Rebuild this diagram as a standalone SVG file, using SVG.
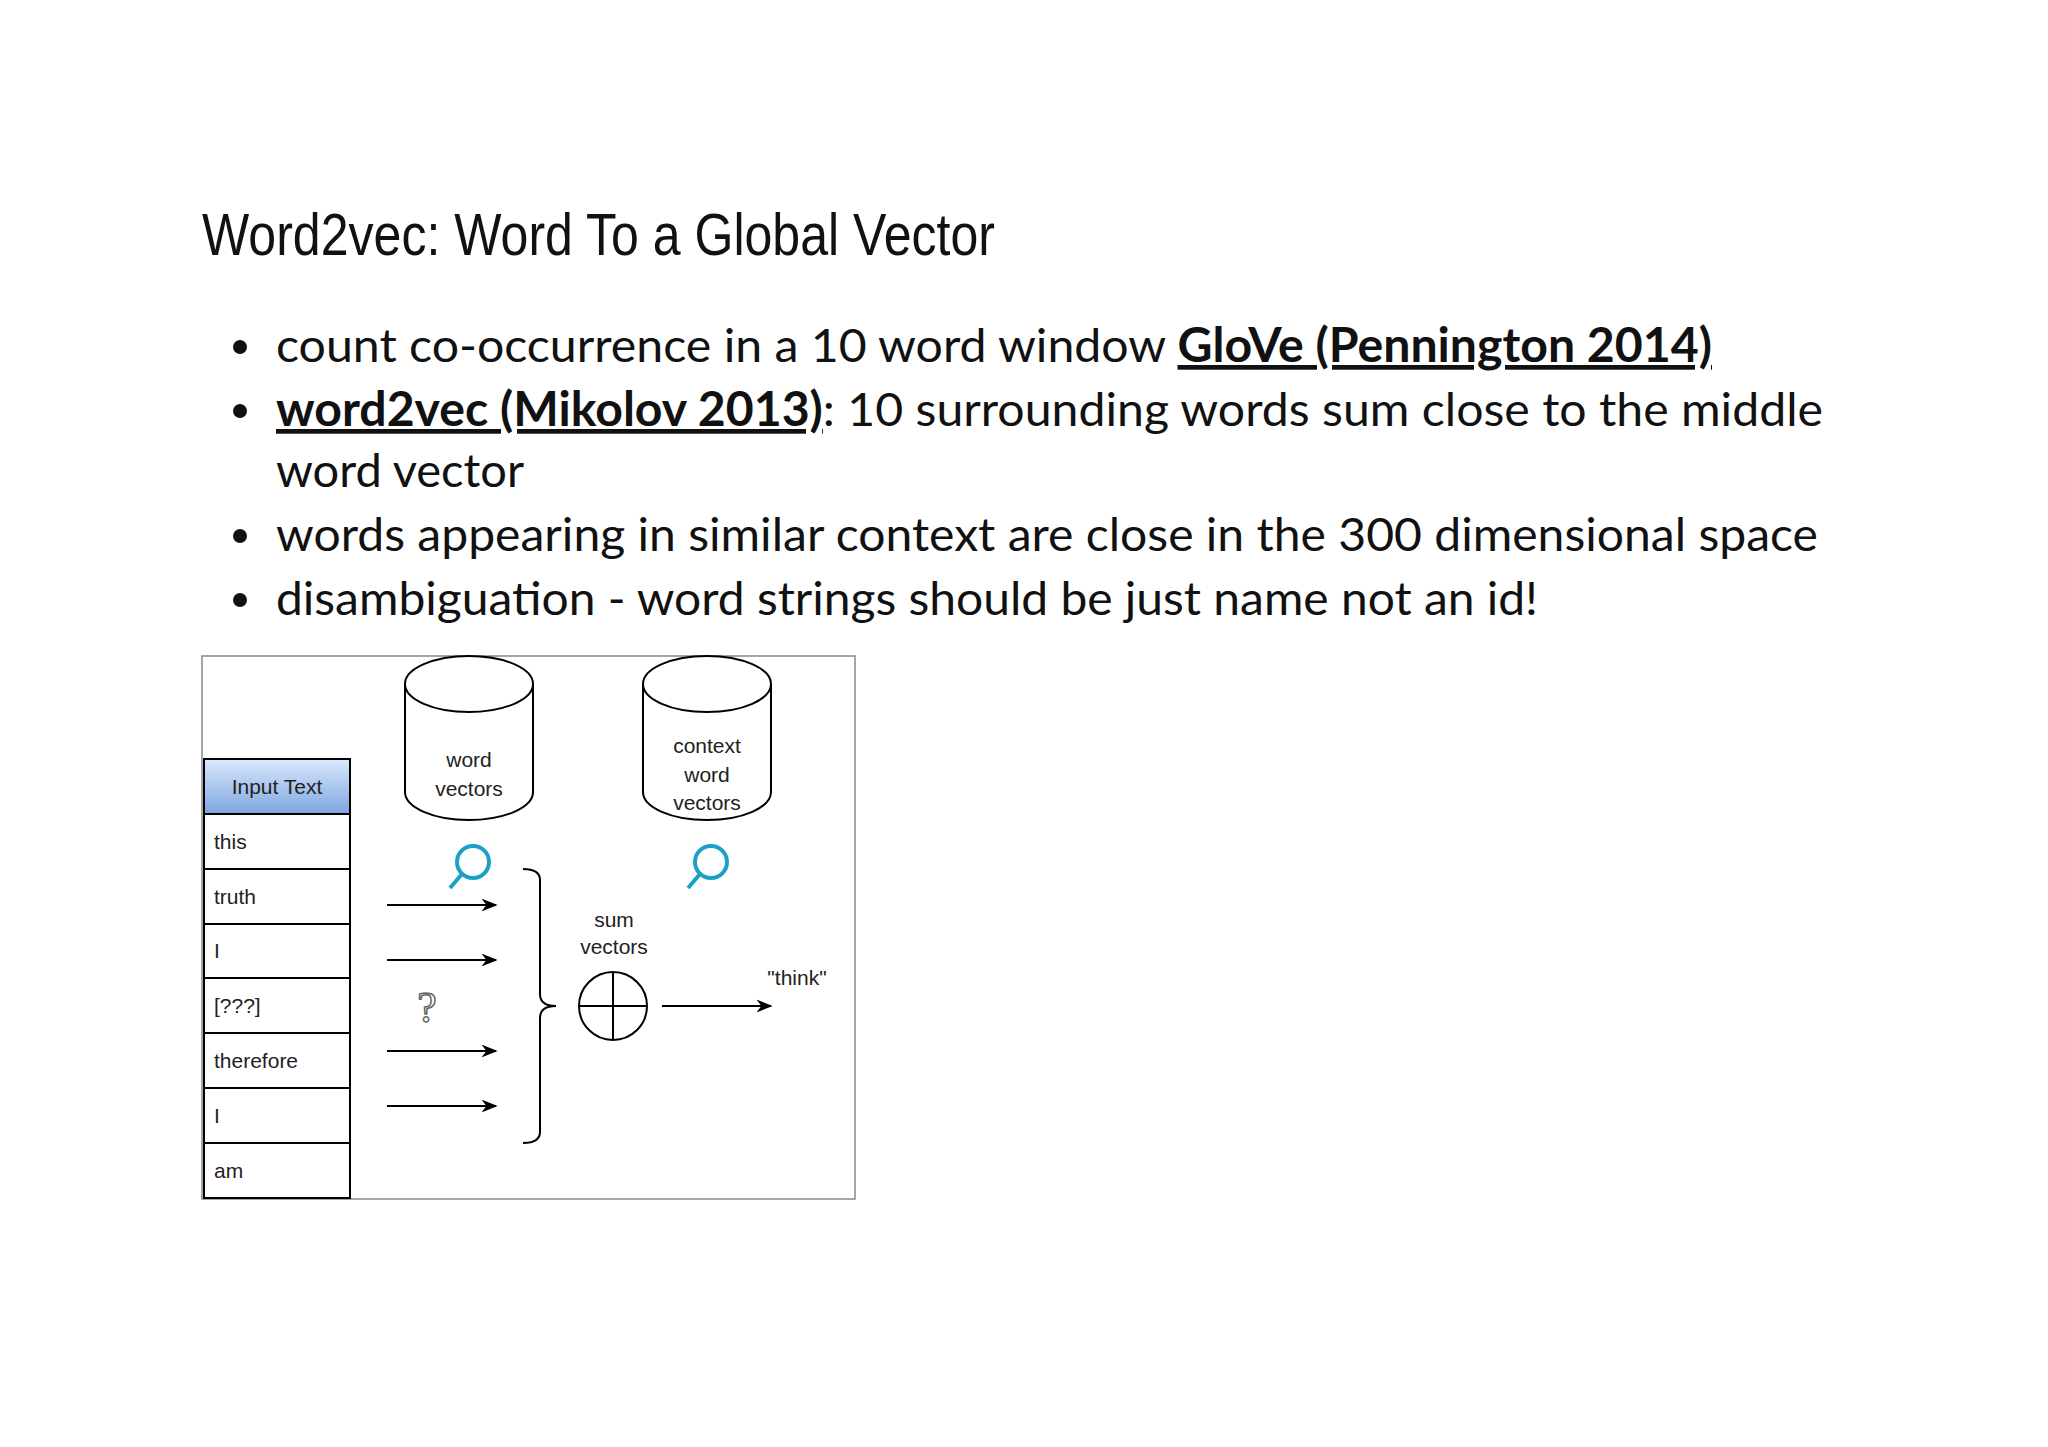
<svg xmlns="http://www.w3.org/2000/svg" width="2048" height="1447" viewBox="0 0 2048 1447">
<defs>
<linearGradient id="hg" x1="0" y1="0" x2="0" y2="1"><stop offset="0" stop-color="#dae8fc"/><stop offset="1" stop-color="#7ea6e0"/></linearGradient>
<marker id="ah" viewBox="0 0 10 10" refX="9" refY="5" markerWidth="8" markerHeight="8" orient="auto"><path d="M0,1 L10,5 L0,9 L3,5 z" fill="#000"/></marker>
</defs>
<style>
.t{font-family:"Liberation Sans Narrow","Liberation Sans",sans-serif;font-weight:300}
.b{font-family:Lato,"Liberation Sans",sans-serif;font-size:47px;fill:#111}
.l{font-weight:bold;text-decoration:underline}
.d{font-family:"Liberation Sans",Arial,sans-serif;font-size:21px;fill:#222}
.c{text-anchor:middle}
.s{fill:none;stroke:#000;stroke-width:2}
.cell{fill:#fff;stroke:#000;stroke-width:2}
.mg{fill:none;stroke:#1ba1c6;stroke-width:4}
.ar{stroke:#000;stroke-width:2;marker-end:url(#ah)}
</style>
<rect width="2048" height="1447" fill="#fff"/>
<text class="t" x="202" y="255" font-size="60" textLength="793" lengthAdjust="spacingAndGlyphs" fill="#111">Word2vec: Word To a Global Vector</text>
<g fill="#111"><circle cx="240" cy="347" r="7"/><circle cx="240" cy="411" r="7"/><circle cx="240" cy="536" r="7"/><circle cx="240" cy="600" r="7"/></g>
<text class="b" x="276" y="362" textLength="1436" lengthAdjust="spacingAndGlyphs">count co-occurrence in a 10 word window <tspan class="l">GloVe (Pennington 2014)</tspan></text>
<text class="b" x="276" y="426" textLength="1547" lengthAdjust="spacingAndGlyphs"><tspan class="l">word2vec (Mikolov 2013)</tspan>: 10 surrounding words sum close to the middle</text>
<text class="b" x="276" y="487">word vector</text>
<text class="b" x="276" y="551" textLength="1542" lengthAdjust="spacingAndGlyphs">words appearing in similar context are close in the 300 dimensional space</text>
<text class="b" x="276" y="615" textLength="1262" lengthAdjust="spacingAndGlyphs">disambiguation - word strings should be just name not an id!</text>

<rect x="202" y="656" width="653" height="543" fill="#fff" stroke="#888" stroke-width="1.5"/>
<g id="table">
<rect x="204" y="759" width="146" height="55" fill="url(#hg)" stroke="#000" stroke-width="2"/>
<text class="d c" x="277" y="794">Input Text</text>
<rect class="cell" x="204" y="814" width="146" height="55"/><text class="d" x="214" y="849">this</text>
<rect class="cell" x="204" y="869" width="146" height="55"/><text class="d" x="214" y="904">truth</text>
<rect class="cell" x="204" y="924" width="146" height="54"/><text class="d" x="214" y="958">I</text>
<rect class="cell" x="204" y="978" width="146" height="55"/><text class="d" x="214" y="1013">[???]</text>
<rect class="cell" x="204" y="1033" width="146" height="55"/><text class="d" x="214" y="1068">therefore</text>
<rect class="cell" x="204" y="1088" width="146" height="55"/><text class="d" x="214" y="1123">I</text>
<rect class="cell" x="204" y="1143" width="146" height="55"/><text class="d" x="214" y="1178">am</text>
</g>
<g id="wordvectors">
<path class="s" d="M405,684 A64,28 0 0 1 533,684 L533,792 A64,28 0 0 1 405,792 Z M405,684 A64,28 0 0 0 533,684" fill="#fff"/>
<text class="d c" x="469" y="767">word</text><text class="d c" x="469" y="796">vectors</text>
</g>
<g id="contextvectors">
<path class="s" d="M643,684 A64,28 0 0 1 771,684 L771,792 A64,28 0 0 1 643,792 Z M643,684 A64,28 0 0 0 771,684" fill="#fff"/>
<text class="d c" x="707" y="753">context</text><text class="d c" x="707" y="782">word</text><text class="d c" x="707" y="810">vectors</text>
</g>
<g id="mag1"><circle class="mg" cx="473" cy="862" r="16"/><line class="mg" x1="462" y1="874" x2="450" y2="888" stroke-width="6"/></g>
<g id="mag2"><circle class="mg" cx="711" cy="862" r="16"/><line class="mg" x1="700" y1="874" x2="688" y2="888" stroke-width="6"/></g>
<text x="427" y="1022" font-family="'Liberation Serif',serif" font-size="44" fill="#fff" stroke="#666" stroke-width="1.5" text-anchor="middle">?</text>
<g id="connectors">
<line class="ar" x1="387" y1="905" x2="496" y2="905"/>
<line class="ar" x1="387" y1="960" x2="496" y2="960"/>
<line class="ar" x1="387" y1="1051" x2="496" y2="1051"/>
<line class="ar" x1="387" y1="1106" x2="496" y2="1106"/>
<path class="s" d="M523,869 Q540,869 540,880 L540,994 Q540,1006 556,1006 Q540,1006 540,1018 L540,1132 Q540,1143 523,1143"/>
<line class="ar" x1="662" y1="1006" x2="771" y2="1006"/>
</g>
<g id="sum">
<text class="d c" x="614" y="927">sum</text><text class="d c" x="614" y="954">vectors</text>
<circle class="s" cx="613" cy="1006" r="34" fill="#fff"/>
<line class="s" x1="579" y1="1006" x2="647" y2="1006"/><line class="s" x1="613" y1="972" x2="613" y2="1040"/>
</g>
<text class="d c" x="797" y="985">"think"</text>
</svg>
